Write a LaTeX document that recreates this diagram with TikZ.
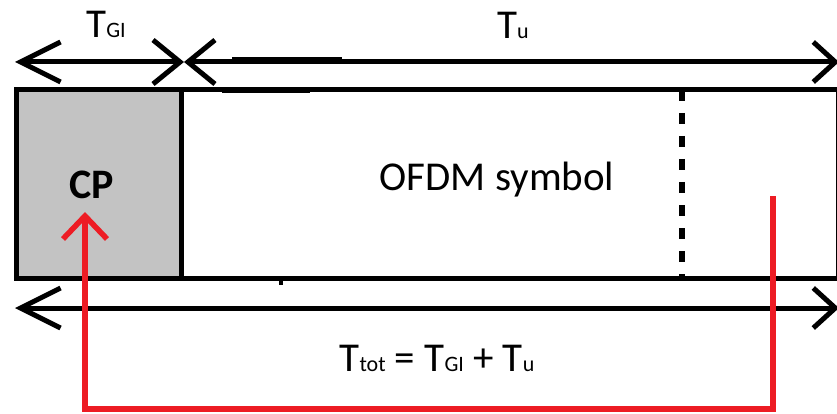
\documentclass[tikz,border=0pt]{standalone}
\usepackage{fontspec}
\setmainfont{Carlito}
\usetikzlibrary{positioning,arrows.meta}
\definecolor{cpgray}{RGB}{195,195,195}
\definecolor{paintred}{RGB}{237,28,36}
\newcommand{\tsub}[1]{{\fontsize{22}{22}\selectfont #1}}
\tikzset{
  longbarb/.tip={Straight Barb[length=40pt,width=40pt]},
  shortbarb/.tip={Straight Barb[length=22pt,width=40pt]},
  crossbarb/.tip={Straight Barb[length=27pt,width=44pt]},
  redbarb/.tip={Straight Barb[length=23pt,width=44pt]},
  dim/.style={line width=5pt, draw=black},
  frame/.style={
    draw=black,
    line width=5pt,
    rectangle,
    minimum height=188pt,
    inner sep=0pt
  },
  dotline/.style={line width=6pt, dash pattern=on 11pt off 12pt},
  feedback/.style={line width=5.5pt, draw=paintred, -redbarb},
  lbl/.style={anchor=base, inner sep=0pt, font=\fontsize{41}{41}\selectfont, text=black}
}

\begin{document}
\begin{tikzpicture}[x=1pt, y=-1pt]
\useasboundingbox (0,0) rectangle (837,414);

% guard interval and useful part of the symbol
\node[frame, fill=cpgray, minimum width=165pt] (gi) at (98.5,184) {};
\node[frame, fill=white, minimum width=657.5pt] (sym) at (509.75,184) {};
\draw[dotline] (682,90) -- (682,278);

% leftover strokes on the outline
\draw[line width=7pt] (232,61) -- (342,61);
\draw[line width=6.5pt] (222,90) -- (310,90);
\draw[line width=4pt] (281,278) -- (281,285);

% texts
\node[lbl] (tgi) at (106,38) {T\tsub{GI}};
\node[lbl] (tu) at (513,39) {T\tsub{u}};
\node[lbl, font=\bfseries\fontsize{42}{42}\selectfont] (cp) at (92,198) {CP};
\node[lbl] (ofdm) at (497,190) {OFDM symbol};
\node[lbl] (ttot) at (437,371) {T\tsub{tot} = T\tsub{GI} + T\tsub{u}};

% durations
\coordinate (gil) at (15,62);
\coordinate (gir) at (184,62);
\coordinate (ur) at (839,62);
\coordinate (totl) at (15,308);
\coordinate (totr) at (839,308);

\draw[dim, longbarb-crossbarb] (gil) -- (gir);
\draw[dim, crossbarb-shortbarb] (gir) -- (ur);
\draw[dim, longbarb-shortbarb] (totl) -- (totr);

% copied tail goes back to the front
\coordinate (tail) at (773,196);
\coordinate (head) at (85,212);
\draw[feedback] (tail) -- ++(0,213) -| (head);

\end{tikzpicture}
\end{document}
